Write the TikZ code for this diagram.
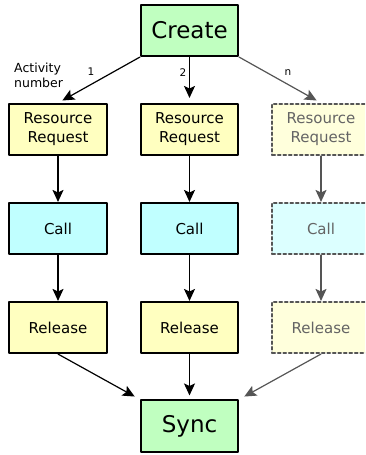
\documentclass[tikz,border=0pt]{standalone}
\usepackage{fontspec}
\setmainfont{DejaVu Sans}
\usetikzlibrary{arrows.meta}
\usetikzlibrary{positioning}
\definecolor{endgreen}{RGB}{192,255,192}
\definecolor{stepyellow}{RGB}{255,255,192}
\definecolor{stepcyan}{RGB}{192,255,255}
\definecolor{fadedyellow}{RGB}{255,255,220}
\definecolor{fadedcyan}{RGB}{220,255,255}
\definecolor{fadedline}{RGB}{85,85,85}
\definecolor{fadedtext}{RGB}{100,100,100}
\begin{document}
\begin{tikzpicture}[line cap=round,line join=round,>={Stealth[length=12pt,width=11pt,inset=2.5pt]},x=1pt,y=-1pt,
  box/.style={draw,line width=1.6pt,minimum width=97.5pt,minimum height=51.5pt,inner sep=0pt,align=center,font=\fontsize{15}{19}\selectfont},
  endbox/.style={box,fill=endgreen,font=\fontsize{23}{26}\selectfont},
  faded/.style={draw=fadedline,dash pattern=on 3pt off 2.5pt,text=fadedtext},
  flow/.style={->,line width=1.2pt},
  fadedflow/.style={flow,color=fadedline},
  num/.style={font=\fontsize{10.5}{12}\selectfont}]
\useasboundingbox (0,0) rectangle (365,455);
\clip (0,0) rectangle (365,455);
% start and end
\node[endbox] (create) at (189.5,30.5) {Create};
\node[endbox] (sync) at (189.5,426) {Sync};
% activities 1 and 2
\foreach \i/\x in {1/58,2/189.5}
{
\node[box,fill=stepyellow] (req\i) at (\x,129.5) {Resource\\Request};
\node[box,fill=stepcyan] (call\i) at (\x,228.5) {Call};
\node[box,fill=stepyellow] (rel\i) at (\x,327.5) {Release};
\draw[flow] (req\i) -- (call\i);
\draw[flow] (call\i) -- (rel\i);
}
% activity n
\node[box,faded,fill=fadedyellow] (reqn) at (321,129.5) {Resource\\Request};
\node[box,faded,fill=fadedcyan] (calln) at (321,228.5) {Call};
\node[box,faded,fill=fadedyellow] (reln) at (321,327.5) {Release};
\draw[fadedflow] (reqn) -- (calln);
\draw[fadedflow] (calln) -- (reln);
% fork
\draw[flow,shorten >=5pt] (create.south west) -- (req1.north);
\draw[flow,shorten >=5pt] (create.south) -- (req2.north);
\draw[fadedflow,shorten >=5pt] (create.south east) -- (reqn.north);
\node[num] (n1) at (91,72) {1};
\node[num] (n2) at (183,73) {2};
\node[num] (nn) at (288,73) {n};
\node[anchor=west,align=left,inner sep=0pt,font=\fontsize{12.5}{15}\selectfont] (actnum) at (14,75.5) {Activity\\number};
% join
\draw[flow,shorten >=6pt] (rel1.south) -- (sync.north west);
\draw[flow,shorten >=4pt] (rel2.south) -- (sync.north);
\draw[fadedflow,shorten >=6pt] (reln.south) -- (sync.north east);
\end{tikzpicture}
\end{document}
